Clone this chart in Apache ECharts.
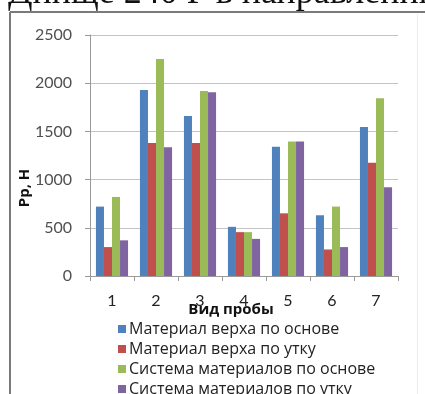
<!DOCTYPE html>
<html>
<head>
<meta charset="utf-8">
<script src="https://cdn.jsdelivr.net/npm/echarts@6/dist/echarts.min.js"></script>
<style>
  html, body { margin: 0; padding: 0; background: #fff; }
  #chart { width: 425px; height: 394px; }
</style>
</head>
<body>
<div id="chart"></div>
<script>
// Breaking load by sample type
const categories = ['1', '2', '3', '4', '5', '6', '7'];
const seriesNames = [
  'Материал верха по основе',
  'Материал верха по утку',
  'Система материалов по основе',
  'Система материалов по утку'
];
const upperWarp = [720, 1930, 1660, 510, 1340, 630, 1545];
const upperWeft = [300, 1380, 1380, 455, 650, 275, 1175];
const systemWarp = [820, 2250, 1920, 455, 1395, 720, 1845];
const systemWeft = [370, 1335, 1905, 385, 1395, 300, 920];
const yTicks = { min: 0, max: 2500, interval: 500 };
const colors = ['#4F81BD', '#C0504D', '#9BBB59', '#8064A2'];

const font = 'Lato, "Open Sans", sans-serif';
const textFont = '"Open Sans", Lato, sans-serif';
const values = [upperWarp, upperWeft, systemWarp, systemWeft];

const chart = echarts.init(document.getElementById('chart'), null, { renderer: 'canvas' });
chart.setOption({
  animation: false,
  color: colors,
  grid: { left: 90, right: 27, top: 35, bottom: 118, containLabel: false },
  xAxis: {
    type: 'category',
    data: categories,
    axisLine: { lineStyle: { color: '#9a9a9a', width: 1 } },
    axisTick: { show: true, length: 5, lineStyle: { color: '#9a9a9a' } },
    axisLabel: { color: '#222', fontFamily: font, fontSize: 16, margin: 17 }
  },
  yAxis: {
    type: 'value',
    min: yTicks.min, max: yTicks.max, interval: yTicks.interval,
    axisLine: { show: true, lineStyle: { color: '#9a9a9a', width: 1 } },
    axisTick: { show: true, length: 5, lineStyle: { color: '#9a9a9a' } },
    splitLine: { lineStyle: { color: '#c4c4c4', width: 1 } },
    axisLabel: { color: '#505050', fontFamily: font, fontSize: 16, margin: 18, formatter: v => String(v) }
  },
  legend: {
    orient: 'vertical',
    left: 113, top: 316,
    width: 310, height: 100,
    icon: 'rect',
    itemWidth: 8, itemHeight: 8,
    itemGap: 4,
    textStyle: { color: '#222', fontFamily: textFont, fontSize: 16, lineHeight: 16, padding: [0, 0, 0, -2] },
    data: seriesNames
  },
  series: seriesNames.map((name, i) => ({
    name,
    type: 'bar',
    data: values[i],
    barGap: '0%',
    barCategoryGap: '27%'
  })),
  graphic: [
    // heading line of the page above the chart frame
    {
      type: 'text', left: 8, top: -24, silent: true,
      style: { text: 'Днище 240 Р в направлении', font: '36px "Liberation Serif", "DejaVu Serif", serif', fill: '#111' }
    },
    // chart frame
    { type: 'line', silent: true, shape: { x1: 10, y1: 12, x2: 425, y2: 12 }, style: { stroke: '#7a7a7a', lineWidth: 2 } },
    { type: 'line', silent: true, shape: { x1: 10, y1: 12, x2: 10, y2: 394 }, style: { stroke: '#7a7a7a', lineWidth: 2 } },
    { type: 'line', silent: true, shape: { x1: 417.5, y1: 14, x2: 417.5, y2: 394 }, style: { stroke: '#ececec', lineWidth: 1 } },
    // axis titles
    {
      type: 'text', x: 25, y: 188, rotation: Math.PI / 2, silent: true,
      style: { text: 'Рр, Н', font: 'bold 15px ' + textFont, fill: '#111', align: 'center', verticalAlign: 'middle' }
    },
    {
      type: 'text', x: 231, y: 310, silent: true,
      style: { text: 'Вид пробы', font: 'bold 15px ' + textFont, fill: '#111', align: 'center', verticalAlign: 'middle' }
    }
  ]
});
</script>
</body>
</html>
